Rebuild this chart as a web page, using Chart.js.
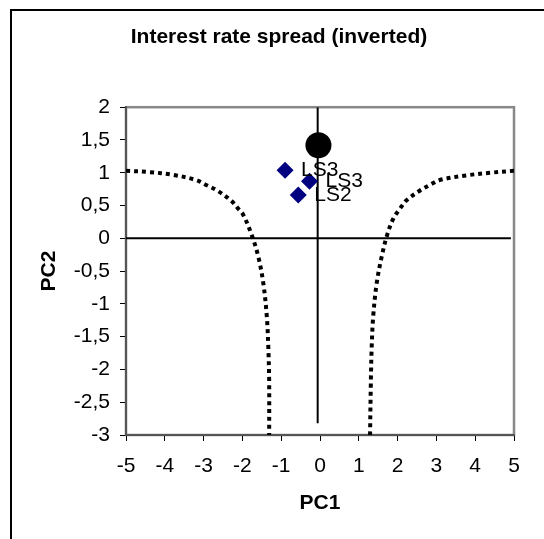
<!DOCTYPE html>
<html>
<head>
<meta charset="utf-8">
<title>Interest rate spread (inverted)</title>
<script src="https://cdn.jsdelivr.net/npm/chart.js@4.4.1/dist/chart.umd.min.js"></script>
<style>
    html, body { margin: 0; padding: 0; background: #ffffff; }
    #theGraph { display: block; }
</style>
</head>
<body>
<canvas id="theGraph" width="544" height="539"></canvas>
<script>
// Values.
var chartTitle = "Interest rate spread (inverted)";
var xTitle = "PC1";
var yTitle = "PC2";

var xTicks = [-5, -4, -3, -2, -1, 0, 1, 2, 3, 4, 5];
var yTicks = [-3, -2.5, -2, -1.5, -1, -0.5, 0, 0.5, 1, 1.5, 2];

// labelled points (diamonds)
var lsNames = ["LS3", "LS3", "LS2"];
var lsX = [-0.9, -0.27, -0.56];
var lsY = [1.04, 0.87, 0.66];

// the big black dot
var dotX = [-0.04];
var dotY = [1.42];

// dotted boundary, left branch
var leftX = [-5, -4.4, -3.8, -3.2, -2.92, -2.65, -2.28, -2.12, -1.98, -1.76, -1.59, -1.46, -1.37, -1.33, -1.31, -1.31];
var leftY = [1.03, 1.01, 0.97, 0.89, 0.81, 0.73, 0.57, 0.46, 0.36, 0.05, -0.28, -0.69, -1.2, -1.7, -2.21, -3];

// dotted boundary, right branch
var rightX = [5, 4.38, 3.78, 3.09, 2.85, 2.58, 2.23, 2.06, 1.89, 1.73, 1.59, 1.46, 1.37, 1.33, 1.31, 1.29];
var rightY = [1.03, 1.0, 0.96, 0.89, 0.82, 0.73, 0.58, 0.45, 0.3, 0.05, -0.28, -0.69, -1.2, -1.7, -2.21, -3];

// cross lines through the origin
var vLineX = [-0.06, -0.06];
var vLineY = [2, -2.82];
var hLineX = [-5, 4.92];
var hLineY = [0, 0];

var fontFamily = "Arial, 'Liberation Sans', sans-serif";

function toPoints(xs, ys) {
    var pts = [];
    for (var i = 0; i < xs.length; i++) {
        pts.push({ x: xs[i], y: ys[i] });
    }
    return pts;
}

function commaLabel(value) {
    return String(value).replace(".", ",");
}

function lineSet(xs, ys, width, dash) {
    return {
        data: toPoints(xs, ys),
        showLine: true,
        borderColor: "#000000",
        borderWidth: width,
        borderDash: dash,
        borderCapStyle: "butt",
        pointRadius: 0,
        fill: false,
        tension: dash.length ? 0.35 : 0
    };
}

// outer frame, white background and plot border
var framePlugin = {
    id: "frame",
    beforeDraw: function (chart) {
        var ctx = chart.ctx;
        var area = chart.chartArea;
        ctx.save();
        ctx.fillStyle = "#ffffff";
        ctx.fillRect(0, 0, chart.width, chart.height);

        ctx.strokeStyle = "#000000";
        ctx.lineWidth = 2;
        ctx.beginPath();
        ctx.moveTo(11, chart.height);
        ctx.lineTo(11, 10);
        ctx.lineTo(chart.width, 10);
        ctx.stroke();

        ctx.strokeStyle = "#888888";
        ctx.lineWidth = 2.5;
        ctx.strokeRect(area.left, area.top, area.right - area.left, area.bottom - area.top);
        ctx.restore();
    }
};

// names next to the diamonds
var labelPlugin = {
    id: "pointNames",
    afterDatasetsDraw: function (chart) {
        var ctx = chart.ctx;
        var meta = chart.getDatasetMeta(1);
        ctx.save();
        ctx.fillStyle = "#000000";
        ctx.font = "21px " + fontFamily;
        ctx.textAlign = "left";
        ctx.textBaseline = "middle";
        for (var i = 0; i < meta.data.length; i++) {
            var pt = meta.data[i];
            ctx.fillText(lsNames[i], pt.x + 16, pt.y);
        }
        ctx.restore();
    }
};

function generateChart() {
    var ctx = document.getElementById("theGraph").getContext("2d");

    var theGraph = new Chart(ctx, {
        type: "scatter",
        data: {
            datasets: [
                {
                    data: toPoints(dotX, dotY),
                    pointStyle: "circle",
                    pointRadius: 13,
                    backgroundColor: "#000000",
                    borderColor: "#000000",
                    borderWidth: 0
                },
                {
                    data: toPoints(lsX, lsY),
                    pointStyle: "rectRot",
                    pointRadius: 8.5,
                    backgroundColor: "#000080",
                    borderColor: "#000080",
                    borderWidth: 0
                },
                lineSet(leftX, leftY, 4, [4, 4]),
                lineSet(rightX, rightY, 4, [4, 4]),
                lineSet(vLineX, vLineY, 2, []),
                lineSet(hLineX, hLineY, 2, [])
            ]
        },
        options: {
            responsive: false,
            animation: false,
            devicePixelRatio: 1,
            events: [],
            layout: {
                padding: { left: 44, right: 30, top: 0, bottom: 0 }
            },
            plugins: {
                legend: { display: false },
                tooltip: { enabled: false },
                title: {
                    display: true,
                    text: chartTitle,
                    color: "#000000",
                    font: { family: fontFamily, size: 21, weight: "bold", lineHeight: 1.2 },
                    padding: { top: 25, bottom: 57 }
                }
            },
            scales: {
                x: {
                    type: "linear",
                    position: "bottom",
                    min: -5,
                    max: 5,
                    afterBuildTicks: function (scale) {
                        scale.ticks = xTicks.map(function (v) { return { value: v }; });
                    },
                    afterFit: function (scale) {
                        scale.height = 104;
                    },
                    grid: {
                        display: true,
                        drawOnChartArea: false,
                        drawTicks: true,
                        tickLength: 6,
                        color: "#000000",
                        lineWidth: 1
                    },
                    border: { display: true, color: "#555555", width: 2 },
                    ticks: {
                        color: "#000000",
                        font: { family: fontFamily, size: 21 },
                        padding: 13,
                        maxRotation: 0,
                        autoSkip: false,
                        callback: commaLabel
                    },
                    title: {
                        display: true,
                        text: xTitle,
                        color: "#000000",
                        font: { family: fontFamily, size: 21, weight: "bold", lineHeight: 1.2 },
                        padding: { top: 0, bottom: 23 }
                    }
                },
                y: {
                    type: "linear",
                    position: "left",
                    min: -3,
                    max: 2,
                    afterBuildTicks: function (scale) {
                        scale.ticks = yTicks.map(function (v) { return { value: v }; });
                    },
                    afterFit: function (scale) {
                        scale.width = 82;
                    },
                    grid: {
                        display: true,
                        drawOnChartArea: false,
                        drawTicks: true,
                        tickLength: 6,
                        color: "#000000",
                        lineWidth: 1
                    },
                    border: { display: true, color: "#555555", width: 2 },
                    ticks: {
                        color: "#000000",
                        font: { family: fontFamily, size: 21 },
                        padding: 10,
                        autoSkip: false,
                        callback: commaLabel
                    },
                    title: {
                        display: true,
                        text: yTitle,
                        color: "#000000",
                        font: { family: fontFamily, size: 21, weight: "bold", lineHeight: 1.2 },
                        padding: { top: -7, bottom: 0 }
                    }
                }
            }
        },
        plugins: [framePlugin, labelPlugin]
    });
    return theGraph;
}

generateChart();
</script>
</body>
</html>
